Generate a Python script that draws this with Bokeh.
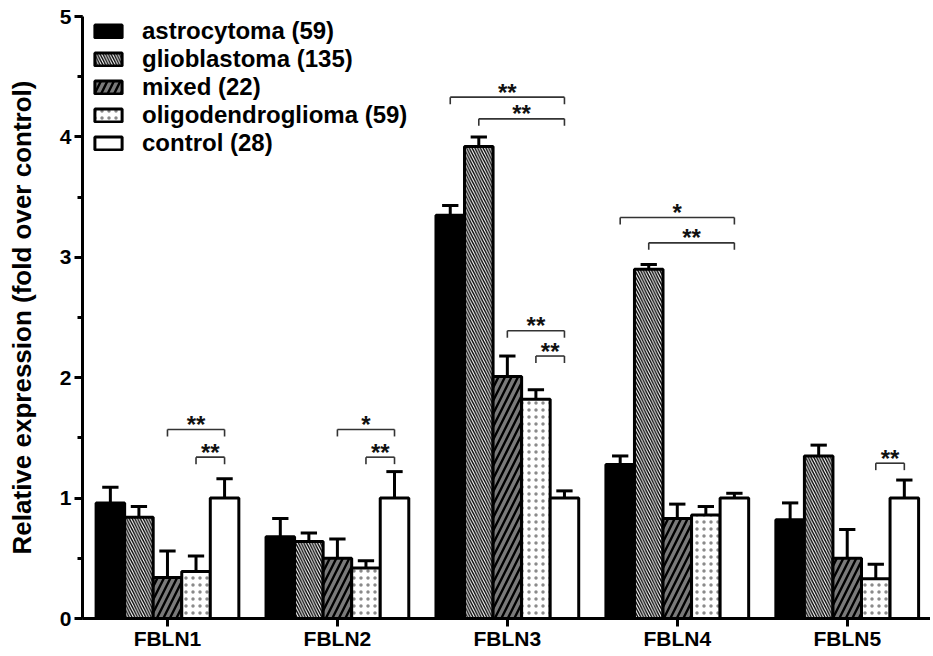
from bokeh.plotting import figure
from bokeh.models import (Range1d, FixedTicker, SingleIntervalTicker, Legend, LegendItem,
                          ColumnDataSource)
from bokeh.core.properties import value
from bokeh.embed import file_html
from bokeh.resources import INLINE

# ---------------- data ----------------
genes = ["FBLN1", "FBLN2", "FBLN3", "FBLN4", "FBLN5"]
series = ["astrocytoma (59)", "glioblastoma (135)", "mixed (22)",
          "oligodendroglioma (59)", "control (28)"]

astrocytoma = [0.96, 0.68, 3.35, 1.28, 0.82]
astrocytoma_err = [0.13, 0.15, 0.08, 0.07, 0.14]
glioblastoma = [0.84, 0.64, 3.92, 2.90, 1.35]
glioblastoma_err = [0.09, 0.07, 0.08, 0.04, 0.09]
mixed = [0.34, 0.50, 2.01, 0.83, 0.50]
mixed_err = [0.22, 0.16, 0.17, 0.12, 0.24]
oligodendroglioma = [0.39, 0.42, 1.82, 0.86, 0.33]
oligodendroglioma_err = [0.13, 0.06, 0.08, 0.07, 0.12]
control = [1.00, 1.00, 1.00, 1.00, 1.00]
control_err = [0.16, 0.22, 0.06, 0.04, 0.15]

# significance brackets: (gene index, from series index, to series index, y level, label)
sig_gene = [0, 0, 1, 1, 2, 2, 2, 2, 3, 3, 4]
sig_from = [2, 3, 2, 3, 0, 1, 2, 3, 0, 1, 3]
sig_to = [4, 4, 4, 4, 4, 4, 4, 4, 4, 4, 4]
sig_y = [1.57, 1.34, 1.57, 1.34, 4.33, 4.15, 2.39, 2.18, 3.33, 3.12, 1.29]
sig_label = ["**", "**", "*", "**", "**", "**", "**", "**", "*", "**", "**"]

values = [astrocytoma, glioblastoma, mixed, oligodendroglioma, control]
errors = [astrocytoma_err, glioblastoma_err, mixed_err, oligodendroglioma_err, control_err]

# ---------------- styling ----------------
FONT = "Liberation Sans"
bar_w = 0.168
cap_half = 0.048

styles = [
    dict(fill_color="black"),
    dict(fill_color="white", hatch_pattern="left_diagonal_line", hatch_scale=5.5,
         hatch_weight=1.4, hatch_color="black"),
    dict(fill_color="#7a7a7a", hatch_pattern="right_diagonal_line", hatch_scale=13,
         hatch_weight=2.4, hatch_color="black"),
    dict(fill_color="white", hatch_pattern="dot", hatch_scale=7,
         hatch_weight=0.3, hatch_color="#8a8a8a"),
    dict(fill_color="white"),
]

p = figure(width=930, height=652, output_backend="svg", toolbar_location=None,
           x_range=Range1d(-0.5, 4.49), y_range=Range1d(0, 5),
           min_border_left=82, min_border_right=0, min_border_top=16, min_border_bottom=30)
p.outline_line_color = None
p.xgrid.grid_line_color = None
p.ygrid.grid_line_color = None
p.background_fill_color = "white"

legend_items = []
for i, (vals, errs) in enumerate(zip(values, errors)):
    xs = [g + (i - 2) * bar_w for g in range(len(genes))]
    src = ColumnDataSource(dict(x=xs, top=vals,
                                etop=[v + e for v, e in zip(vals, errs)],
                                xl=[x - cap_half for x in xs],
                                xr=[x + cap_half for x in xs]))
    r = p.vbar(x="x", top="top", bottom=0, width=bar_w, source=src,
               line_color="black", line_width=3, **styles[i])
    p.segment(x0="x", y0="top", x1="x", y1="etop", source=src,
              line_color="black", line_width=3)
    p.segment(x0="xl", y0="etop", x1="xr", y1="etop", source=src,
              line_color="black", line_width=3)
    legend_items.append(LegendItem(label=series[i], renderers=[r]))

# significance brackets
drop = 0.058
bx0, bx1, by, tx, tl = [], [], [], [], []
for g, a, b, y, lab in zip(sig_gene, sig_from, sig_to, sig_y, sig_label):
    x0 = g + (a - 2) * bar_w
    x1 = g + (b - 2) * bar_w
    bx0.append(x0); bx1.append(x1); by.append(y)
    tx.append((x0 + x1) / 2); tl.append(lab)
p.segment(x0=bx0, y0=by, x1=bx1, y1=by, line_color="#333333", line_width=1.6)
p.segment(x0=bx0, y0=by, x1=bx0, y1=[y - drop for y in by], line_color="#333333", line_width=1.6)
p.segment(x0=bx1, y0=by, x1=bx1, y1=[y - drop for y in by], line_color="#333333", line_width=1.6)
p.text(x=tx, y=by, text=tl, text_align="center", text_baseline="alphabetic",
       y_offset=-5, text_font=value(FONT), text_font_style="bold",
       text_font_size="24px", text_color="#111111")

# axes
p.yaxis.ticker = SingleIntervalTicker(interval=1, num_minor_ticks=2)
p.yaxis.axis_label = "Relative expression (fold over control)"
p.yaxis.axis_label_text_font = FONT
p.yaxis.axis_label_text_font_style = "bold"
p.yaxis.axis_label_text_font_size = "26px"
p.yaxis.axis_label_standoff = 20
p.yaxis.major_label_text_font = FONT
p.yaxis.major_label_text_font_style = "bold"
p.yaxis.major_label_text_font_size = "21px"
p.yaxis.major_label_standoff = 3

p.xaxis.ticker = FixedTicker(ticks=list(range(len(genes))))
p.xaxis.major_label_overrides = {i: g for i, g in enumerate(genes)}
p.xaxis.major_label_text_font = FONT
p.xaxis.major_label_text_font_style = "bold"
p.xaxis.major_label_text_font_size = "21px"
p.xaxis.major_label_standoff = 0
p.xaxis.minor_tick_line_color = None

for ax in (p.xaxis, p.yaxis):
    ax.axis_line_width = 3
    ax.axis_line_color = "black"
    ax.major_tick_line_width = 3
    ax.major_tick_line_color = "black"
    ax.major_tick_in = 0
    ax.major_label_text_color = "black"
    ax.axis_label_text_color = "black"
p.xaxis.major_tick_out = 8
p.yaxis.major_tick_out = 8
p.yaxis.minor_tick_out = 5
p.yaxis.minor_tick_in = 0
p.yaxis.minor_tick_line_width = 3
p.yaxis.minor_tick_line_color = "black"

legend = Legend(items=legend_items, location=(9, 461))
legend.label_text_font = FONT
legend.label_text_font_style = "bold"
legend.label_text_font_size = "24px"
legend.label_text_color = "black"
legend.glyph_width = 34
legend.glyph_height = 16
legend.label_height = 16
legend.label_standoff = 17
legend.spacing = 0
legend.padding = 0
legend.margin = 0
legend.border_line_alpha = 0
legend.background_fill_alpha = 0
p.add_layout(legend)

open("out.html", "w").write(file_html(p, INLINE))
